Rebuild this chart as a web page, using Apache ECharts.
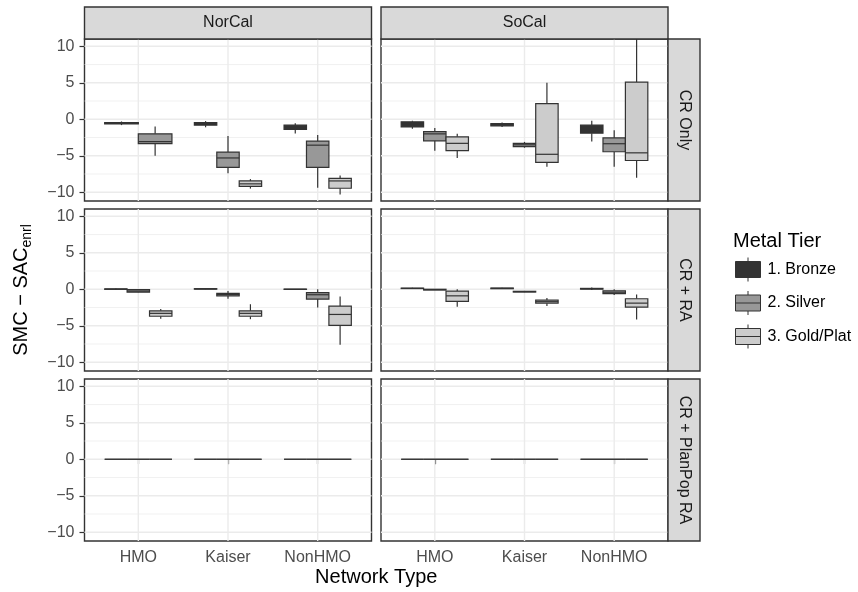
<!DOCTYPE html>
<html>
<head>
<meta charset="utf-8">
<script src="https://cdn.jsdelivr.net/npm/echarts@6/dist/echarts.min.js"></script>
<style>
  html, body { margin: 0; padding: 0; background: #ffffff; }
  #chart { width: 858px; height: 592px; }
</style>
</head>
<body>
<div id="chart"></div>
<script>
// Facet levels and categories
const networks = ['HMO', 'Kaiser', 'NonHMO'];
const regions = ['NorCal', 'SoCal'];
const adjustments = ['CR Only', 'CR + RA', 'CR + PlanPop RA'];
const tiers = ['1. Bronze', '2. Silver', '3. Gold/Plat'];
const tierFills = ['#333333', '#989898', '#CCCCCC'];

// Y breaks
const majorBreaks = [-10, -5, 0, 5, 10];
const minorBreaks = [-7.5, -2.5, 2.5, 7.5];
const networkPositions = [1, 2, 3];

// Box summaries per network: [lower whisker, Q1, median, Q3, upper whisker]; null = no plans
const norcalCrOnlyBronze = [[-0.8, -0.65, -0.55, -0.45, -0.3], [-1.1, -0.8, -0.6, -0.45, -0.25], [-1.95, -1.4, -1.05, -0.8, -0.55]];
const norcalCrOnlySilver = [[-5.0, -3.35, -3.05, -2.0, -1.0], [-7.4, -6.6, -5.3, -4.5, -2.3], [-9.4, -6.6, -3.55, -3.0, -2.15]];
const norcalCrOnlyGold = [null, [-9.5, -9.2, -8.85, -8.45, -8.2], [-10.3, -9.45, -8.45, -8.1, -7.7]];

const socalCrOnlyBronze = [[-1.3, -1.05, -0.65, -0.35, -0.2], [-1.05, -0.9, -0.75, -0.6, -0.45], [-3.05, -1.9, -1.3, -0.8, -0.2]];
const socalCrOnlySilver = [[-4.3, -2.95, -2.0, -1.7, -1.2], [-3.9, -3.75, -3.5, -3.3, -3.1], [-6.5, -4.45, -3.35, -2.55, -1.5]];
const socalCrOnlyGold = [[-5.3, -4.3, -3.3, -2.4, -2.0], [-6.5, -5.9, -4.8, 2.15, 5.0], [-8.0, -5.65, -4.6, 5.1, 11.0]];

const norcalCrRaBronze = [[-0.05, 0, 0.02, 0.05, 0.1], [0, 0.02, 0.05, 0.08, 0.1], [-0.05, -0.02, 0, 0.02, 0.05]];
const norcalCrRaSilver = [[-0.45, -0.4, -0.25, -0.05, 0], [-1.3, -0.9, -0.7, -0.55, -0.25], [-2.5, -1.35, -0.75, -0.45, 0]];
const norcalCrRaGold = [[-4.05, -3.7, -3.3, -2.95, -2.7], [-4.1, -3.7, -3.3, -2.95, -2.05], [-7.6, -4.95, -3.45, -2.3, -1.0]];

const socalCrRaBronze = [[0.05, 0.1, 0.13, 0.15, 0.2], [0.05, 0.08, 0.12, 0.17, 0.22], [-0.1, 0.02, 0.08, 0.12, 0.25]];
const socalCrRaSilver = [[-0.1, -0.1, -0.05, 0, 0.05], [-0.4, -0.38, -0.32, -0.28, -0.25], [-0.8, -0.6, -0.4, -0.2, 0]];
const socalCrRaGold = [[-2.4, -1.65, -0.9, -0.25, 0], [-2.3, -1.9, -1.7, -1.5, -1.2], [-4.15, -2.45, -1.9, -1.3, -0.7]];

const norcalPlanPopBronze = [[0, 0, 0, 0, 0], [0, 0, 0, 0, 0], [0, 0, 0, 0, 0]];
const norcalPlanPopSilver = [[0, 0, 0, 0, 0], [0, 0, 0, 0, 0], [0, 0, 0, 0, 0]];
const norcalPlanPopGold = [[0, 0, 0, 0, 0], [0, 0, 0, 0, 0], [0, 0, 0, 0, 0]];

const socalPlanPopBronze = [[0, 0, 0, 0, 0], [0, 0, 0, 0, 0], [0, 0, 0, 0, 0]];
const socalPlanPopSilver = [[0, 0, 0, 0, 0], [0, 0, 0, 0, 0], [0, 0, 0, 0, 0]];
const socalPlanPopGold = [[0, 0, 0, 0, 0], [0, 0, 0, 0, 0], [0, 0, 0, 0, 0]];

// panels[row][col] -> [bronze, silver, gold]
const panels = [
  [[norcalCrOnlyBronze, norcalCrOnlySilver, norcalCrOnlyGold], [socalCrOnlyBronze, socalCrOnlySilver, socalCrOnlyGold]],
  [[norcalCrRaBronze, norcalCrRaSilver, norcalCrRaGold], [socalCrRaBronze, socalCrRaSilver, socalCrRaGold]],
  [[norcalPlanPopBronze, norcalPlanPopSilver, norcalPlanPopGold], [socalPlanPopBronze, socalPlanPopSilver, socalPlanPopGold]]
];

// Layout
const panelLeft = [84.5, 381];
const panelWidth = 287;
const panelTop = [39, 209, 379];
const panelHeight = 162;
const stripSize = 32;
const xMin = 0.4, xMax = 3.6;
const yMin = -11.2, yMax = 11.0;
const dodgeWidth = 0.75;
const ink = '#333333';
const fontFamily = '"Liberation Sans", Arial, Helvetica, sans-serif';
const tickFont = 16;
const titleFont = 20;

const minus = v => (v < 0 ? '\u2212' + Math.abs(v) : String(v));

const grids = [], xAxes = [], yAxes = [], series = [];

function gridlineRenderer(params, api) {
  const cs = params.coordSys;
  const v = api.value(0), kind = api.value(1);
  if (kind === 2) {
    const x = api.coord([v, 0])[0];
    return { type: 'line', silent: true,
      shape: { x1: x, y1: cs.y, x2: x, y2: cs.y + cs.height },
      style: { stroke: '#EBEBEB', lineWidth: 1.4 } };
  }
  const y = api.coord([1, v])[1];
  return { type: 'line', silent: true,
    shape: { x1: cs.x, y1: y, x2: cs.x + cs.width, y2: y },
    style: { stroke: '#EBEBEB', lineWidth: kind === 0 ? 1.4 : 0.7 } };
}

function makeBoxRenderer(tierIdx, presentTiers) {
  return function (params, api) {
    const cat = api.value(0);
    const lo = api.value(1), q1 = api.value(2), med = api.value(3), q3 = api.value(4), hi = api.value(5);
    const present = presentTiers[cat - 1];
    const n = present.length;
    const slot = present.indexOf(tierIdx);
    const slotW = dodgeWidth / n;
    const xl = cat - dodgeWidth / 2 + slot * slotW;
    const xr = xl + slotW;
    const xm = (xl + xr) / 2;
    const tl = api.coord([xl, q3]);
    const br = api.coord([xr, q1]);
    const mL = api.coord([xl, med]);
    const mR = api.coord([xr, med]);
    const wTop = api.coord([xm, hi]);
    const wQ3 = api.coord([xm, q3]);
    const wQ1 = api.coord([xm, q1]);
    const wBot = api.coord([xm, lo]);
    const lineStyle = { stroke: ink, lineWidth: 1.2 };
    return {
      type: 'group',
      children: [
        { type: 'line', shape: { x1: wTop[0], y1: wTop[1], x2: wQ3[0], y2: wQ3[1] }, style: lineStyle },
        { type: 'line', shape: { x1: wQ1[0], y1: wQ1[1], x2: wBot[0], y2: wBot[1] }, style: lineStyle },
        { type: 'rect', shape: { x: tl[0], y: tl[1], width: br[0] - tl[0], height: br[1] - tl[1] },
          style: { fill: tierFills[tierIdx], stroke: ink, lineWidth: 1.2 } },
        { type: 'line', shape: { x1: mL[0], y1: mL[1], x2: mR[0], y2: mR[1] }, style: lineStyle }
      ]
    };
  };
}

const gridlineData = []
  .concat(majorBreaks.map(v => [v, 0]))
  .concat(minorBreaks.map(v => [v, 1]))
  .concat(networkPositions.map(v => [v, 2]));

for (let r = 0; r < adjustments.length; r++) {
  for (let c = 0; c < regions.length; c++) {
    const gi = grids.length;
    const isBottom = r === adjustments.length - 1;
    const isLeft = c === 0;
    grids.push({
      left: panelLeft[c], top: panelTop[r], width: panelWidth, height: panelHeight,
      show: true, backgroundColor: '#ffffff', borderColor: ink, borderWidth: 1.4
    });
    xAxes.push({
      gridIndex: gi, type: 'value', min: xMin, max: xMax,
      axisLine: { show: false },
      splitLine: { show: false },
      axisTick: { show: isBottom, customValues: networkPositions, length: 5, lineStyle: { color: ink, width: 1.2 } },
      axisLabel: { show: isBottom, customValues: networkPositions, margin: 9,
        formatter: v => networks[Math.round(v) - 1] || '',
        color: '#4D4D4D', fontSize: tickFont, fontFamily: fontFamily }
    });
    yAxes.push({
      gridIndex: gi, type: 'value', min: yMin, max: yMax,
      axisLine: { show: false },
      splitLine: { show: false },
      axisTick: { show: isLeft, customValues: majorBreaks, length: 5, lineStyle: { color: ink, width: 1.2 } },
      axisLabel: { show: isLeft, customValues: majorBreaks, margin: 10, formatter: minus,
        color: '#4D4D4D', fontSize: tickFont, fontFamily: fontFamily }
    });
    series.push({
      type: 'custom', name: 'gridlines', xAxisIndex: gi, yAxisIndex: gi, z: 1, silent: true,
      renderItem: gridlineRenderer, data: gridlineData
    });
    const tierArrays = panels[r][c];
    const presentTiers = networks.map((_, k) => tiers.map((_, t) => t).filter(t => tierArrays[t][k] !== null));
    tiers.forEach((tierName, t) => {
      const data = [];
      tierArrays[t].forEach((stats, k) => {
        if (stats !== null) data.push([k + 1].concat(stats));
      });
      series.push({
        type: 'custom', name: tierName, xAxisIndex: gi, yAxisIndex: gi, z: 3, silent: true,
        itemStyle: { color: tierFills[t], borderColor: ink, borderWidth: 1.2 },
        encode: { x: 0, y: [1, 2, 3, 4, 5] },
        renderItem: makeBoxRenderer(t, presentTiers), data: data
      });
    });
  }
}

// Facet strips, axis titles and legend title
const graphics = [];
regions.forEach((name, c) => {
  graphics.push({ type: 'rect', z: 10, silent: true,
    shape: { x: panelLeft[c], y: panelTop[0] - stripSize, width: panelWidth, height: stripSize },
    style: { fill: '#D9D9D9', stroke: ink, lineWidth: 1.4 } });
  graphics.push({ type: 'text', z: 11, silent: true,
    x: panelLeft[c] + panelWidth / 2, y: panelTop[0] - stripSize / 2,
    style: { text: name, fill: '#1A1A1A', fontSize: tickFont, fontFamily: fontFamily, align: 'center', verticalAlign: 'middle' } });
});
const stripX = panelLeft[1] + panelWidth;
adjustments.forEach((name, r) => {
  graphics.push({ type: 'rect', z: 10, silent: true,
    shape: { x: stripX, y: panelTop[r], width: stripSize, height: panelHeight },
    style: { fill: '#D9D9D9', stroke: ink, lineWidth: 1.4 } });
  graphics.push({ type: 'text', z: 11, silent: true,
    x: stripX + stripSize / 2, y: panelTop[r] + panelHeight / 2, rotation: -Math.PI / 2,
    style: { text: name, fill: '#1A1A1A', fontSize: tickFont, fontFamily: fontFamily, align: 'center', verticalAlign: 'middle' } });
});
graphics.push({ type: 'text', silent: true,
  x: (panelLeft[0] + panelLeft[1] + panelWidth) / 2, y: 577,
  style: { text: 'Network Type', fill: '#000000', fontSize: titleFont, fontFamily: fontFamily, align: 'center', verticalAlign: 'middle' } });
graphics.push({ type: 'text', silent: true,
  x: 21, y: panelTop[1] + panelHeight / 2, rotation: Math.PI / 2,
  style: { text: 'SMC \u2212 SAC{sub|enrl}', fill: '#000000', fontSize: titleFont, fontFamily: fontFamily,
    align: 'center', verticalAlign: 'middle',
    rich: { sub: { fontSize: 14, fontFamily: fontFamily, fill: '#000000', padding: [12, 0, 0, 0] } } } });
graphics.push({ type: 'text', silent: true,
  x: 733, y: 241,
  style: { text: 'Metal Tier', fill: '#000000', fontSize: titleFont, fontFamily: fontFamily, align: 'left', verticalAlign: 'middle' } });

const keyIcon = 'path://M12.5,0L12.5,4M0,4L25,4L25,20L0,20ZM0,12L25,12M12.5,20L12.5,24';

const option = {
  animation: false,
  backgroundColor: '#ffffff',
  grid: grids,
  xAxis: xAxes,
  yAxis: yAxes,
  series: series,
  legend: {
    orient: 'vertical', left: 735, top: 257, padding: 0,
    itemWidth: 25, itemHeight: 24, itemGap: 8.5,
    selectedMode: false,
    data: tiers.map(name => ({ name: name, icon: keyIcon })),
    itemStyle: { borderColor: ink, borderWidth: 1 },
    textStyle: { color: '#000000', fontSize: tickFont, fontFamily: fontFamily, padding: [0, 0, 0, 2] }
  },
  graphic: graphics
};

const chart = echarts.init(document.getElementById('chart'), null, { renderer: 'canvas' });
chart.setOption(option);
</script>
</body>
</html>
